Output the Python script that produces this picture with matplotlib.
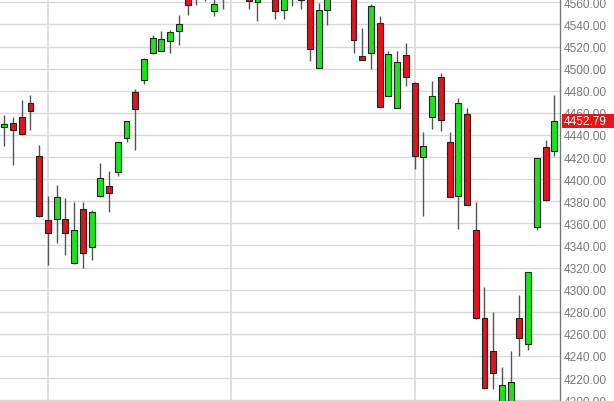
import matplotlib
matplotlib.use("Agg")
import matplotlib.pyplot as plt
import matplotlib.transforms as mtransforms
from matplotlib.patches import Rectangle

# OHLC data (values above the visible window are estimates)
opens = [4447, 4451, 4456, 4469, 4421, 4363, 4364, 4364, 4324, 4373,
         4339, 4385, 4394, 4406, 4437, 4479, 4490, 4514, 4516, 4525,
         4534, 4572, 4566, 4578, 4552.4, 4566, 4580, 4595, 4575, 4560,
         4572, 4584, 4553.3, 4575, 4562, 4570, 4500.5, 4553.3, 4582, 4568,
         4575, 4511.7, 4514, 4541, 4475.5, 4464.3, 4512.3, 4487, 4419.7, 4456,
         4492, 4434, 4384.4, 4459, 4354, 4274, 4244.2, 4190, 4192, 4274.3,
         4250.8, 4356.4, 4428.8, 4425.7]
highs = [4458, 4456, 4472, 4476.4, 4431, 4384.4, 4394.7, 4382.9, 4379, 4379,
         4372.3, 4415, 4407, 4434, 4453, 4482, 4510, 4530, 4533.8, 4535,
         4548.5, 4578, 4580, 4584, 4565, 4588, 4598, 4600, 4580, 4579,
         4590, 4590, 4575, 4580, 4578, 4575, 4559.4, 4578, 4588, 4586,
         4580, 4536.5, 4558.5, 4548, 4516, 4516, 4523.2, 4487.6, 4442.4, 4489,
         4496, 4442.4, 4473.4, 4464.4, 4379.6, 4302.6, 4280, 4229.7, 4244.7, 4295,
         4315.6, 4419, 4435.7, 4476]
lows = [4430, 4413, 4440, 4444.4, 4366, 4322.5, 4341.9, 4331.6, 4323, 4320,
        4326.8, 4383.5, 4370.5, 4403, 4434, 4426.3, 4486, 4513, 4516, 4514,
        4521.4, 4548.5, 4558, 4561, 4547.3, 4554, 4572, 4570, 4554, 4543.4,
        4566, 4545, 4545, 4556.8, 4553.5, 4506.6, 4500.5, 4539.5, 4566, 4564,
        4513.9, 4507.8, 4499.6, 4465, 4475.5, 4464.3, 4484, 4409, 4366.3, 4445.3,
        4443.8, 4383.5, 4354.8, 4377, 4273, 4210, 4210, 4185, 4185, 4239.6,
        4245.6, 4354.2, 4380.5, 4420.6]
closes = [4450, 4444, 4441, 4461.4, 4367, 4351, 4383.5, 4351, 4354.2, 4333,
          4370, 4401, 4387, 4434, 4452.3, 4463.4, 4509, 4527.4, 4526.5, 4533,
          4540, 4557.6, 4575, 4568, 4558.5, 4582, 4592, 4578, 4561.5, 4574,
          4585, 4552.4, 4570, 4566, 4572, 4517.7, 4553.3, 4572, 4570, 4580,
          4526, 4507.8, 4557, 4465.5, 4513.2, 4506.3, 4492, 4421, 4430.2, 4475.5,
          4453.6, 4383.5, 4468.6, 4377, 4274, 4210.7, 4224.5, 4214, 4216, 4256,
          4315.6, 4419, 4381.4, 4452.79]

y_ticks = [4200, 4220, 4240, 4260, 4280, 4300, 4320, 4340, 4360, 4380, 4400,
           4420, 4440, 4460, 4480, 4500, 4520, 4540, 4560]
month_grid_idx = [5, 26, 47]
last_price = 4452.79

UP = "#1de31d"
DOWN = "#e3131b"

plt.rcParams['font.family'] = ['Liberation Sans', 'DejaVu Sans']
fig = plt.figure(figsize=(6.14, 4.02), dpi=100)
ax = fig.add_axes([0, 0, 560 / 614, 1])

n = len(opens)
xs = list(range(n))

# grid
for yv in y_ticks:
    ax.axhline(yv, color="#d9d9d9", lw=1.0, zorder=0)
for gx in month_grid_idx:
    ax.axvline(gx, color="#d9d9d9", lw=1.2, zorder=0)

# wicks
ax.vlines(xs, lows, highs, color="#555555", lw=1.0, zorder=1)

# bodies
bottoms = [min(o, c) for o, c in zip(opens, closes)]
heights = [max(abs(c - o), 0.8) for o, c in zip(opens, closes)]
colors = [UP if c >= o else DOWN for o, c in zip(opens, closes)]
ax.bar(xs, heights, bottom=bottoms, width=0.68, color=colors,
       edgecolor="#222222", linewidth=0.8, zorder=2)

ax.set_xlim(-0.49, 63.65)
ax.set_ylim(4199.2, 4563.0)

ax.yaxis.tick_right()
ax.set_yticks(y_ticks)
ax.set_yticklabels([f"{v:.2f}" for v in y_ticks])
ax.tick_params(axis='y', length=0, pad=3, labelsize=8.6, labelcolor="#7a7a7a")
ax.set_xticks([])

for s in ["top", "left", "bottom"]:
    ax.spines[s].set_visible(False)
ax.spines["right"].set_color("#777777")
ax.spines["right"].set_linewidth(1.0)

# last price marker
trans = mtransforms.blended_transform_factory(ax.transAxes, ax.transData)
rect = Rectangle((1.003, last_price - 6.1), 0.2, 12.2, transform=trans,
                 facecolor="#e8141c", edgecolor="none", clip_on=False, zorder=5)
ax.add_patch(rect)
ax.text(1.007, last_price, f"{last_price:.2f}", transform=trans, color="white",
        fontsize=8.6, va="center", ha="left", zorder=6, clip_on=False)

fig.savefig("out.png", dpi=100)
